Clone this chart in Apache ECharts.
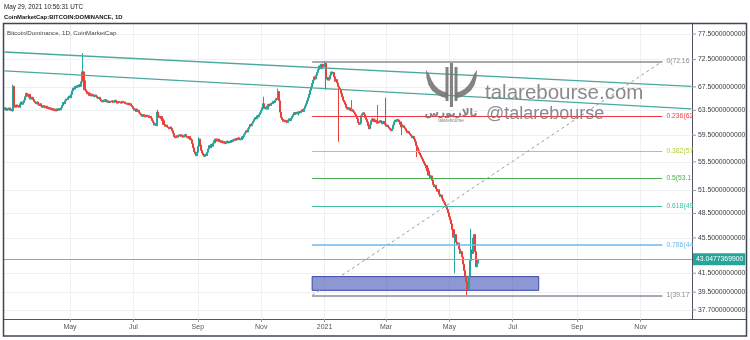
<!DOCTYPE html>
<html><head><meta charset="utf-8">
<script src="https://cdn.jsdelivr.net/npm/echarts@6/dist/echarts.min.js"></script>
<style>html,body{margin:0;padding:0;background:#fff}#c{width:750px;height:340px}</style>
</head><body><div id="c"></div>
<script>
// ---------- data ----------
const startDate = [2020, 1, 28];          // first daily bar (UTC, month 0-based)
const dayCount = 662;                     // days shown on the time axis (incl. future space)
const monthNames = ['Jan','Feb','Mar','Apr','May','Jun','Jul','Aug','Sep','Oct','Nov','Dec'];
const firstOpen = 63.7;
const closes = [
 63.9,63.5,63.8,63.6,63.9,63.5,63.7,63.4,67.6,64.2,
 64.0,64.4,64.1,64.3,64.0,64.6,64.9,64.5,64.8,65.2,
 65.8,66.4,65.9,66.2,65.7,65.4,65.7,65.3,65.0,64.8,
 64.6,64.9,64.5,64.3,64.6,64.2,64.0,64.3,64.1,63.9,64.2,63.8,64.0,63.7,63.9,
 63.6,63.8,63.5,63.7,63.4,63.7,63.5,63.8,63.6,63.9,64.3,
 64.8,64.6,65.1,65.4,65.3,65.7,65.9,65.6,66.2,66.8,
 67.3,67.1,67.6,67.4,67.7,67.5,67.9,67.6,68.4,70.2,68.6,67.0,66.7,66.3,66.5,
 66.0,66.3,65.9,66.2,66.0,65.8,66.1,65.9,65.6,65.5,65.7,65.3,
 65.1,64.9,65.2,65.0,65.3,64.9,65.1,64.8,65.0,
 64.9,65.1,64.8,64.9,65.2,64.9,64.7,65.0,64.8,64.9,64.7,65.0,64.8,64.9,64.6,64.7,
 64.5,64.7,64.4,64.6,64.3,64.1,63.8,63.5,63.7,63.3,63.5,63.1,62.9,
 62.7,62.5,62.8,62.6,62.4,62.7,62.5,62.6,62.3,62.5,62.2,61.8,61.5,
 61.1,61.3,61.0,63.2,62.6,62.3,62.5,62.1,61.8,61.2,60.9,61.1,60.8,
 60.7,60.5,60.8,60.6,60.2,59.8,59.3,59.1,59.4,59.2,59.5,
 59.4,59.6,59.3,59.5,59.2,59.4,59.6,59.3,59.1,59.3,59.0,58.8,58.2,
 57.6,57.0,56.7,56.4,56.9,57.8,58.9,58.0,57.2,56.8,56.5,56.3,56.6,56.4,56.9,
 57.4,57.9,57.6,58.1,57.8,58.3,58.7,58.9,58.6,58.9,58.5,58.7,
 58.4,58.6,58.3,58.5,58.2,58.4,58.6,58.3,58.5,58.4,58.7,58.5,58.8,
 58.9,58.7,59.0,58.8,59.1,58.9,58.8,59.0,59.3,
 59.6,59.9,60.2,60.0,60.5,60.8,61.2,61.0,61.4,61.7,
 62.0,62.3,62.1,62.6,62.4,62.8,63.1,63.5,63.9,64.6,63.8,64.0,63.7,
 64.2,64.5,64.3,64.7,64.6,65.0,64.8,65.2,65.5,65.3,66.7,
 65.1,63.2,62.3,62.0,61.7,61.9,61.6,61.8,61.5,61.9,62.1,61.8,
 62.2,62.5,62.8,63.1,62.9,63.2,63.0,63.3,63.1,
 63.4,63.6,63.3,63.8,64.2,64.6,65.1,65.6,66.2,66.9,67.5,68.1,
 68.7,69.3,68.9,69.6,70.1,70.6,71.3,70.8,71.6,71.2,71.5,71.8,
 68.9,69.2,68.7,68.9,69.6,70.2,69.9,70.1,69.3,68.5,68.8,68.2,
 67.6,67.3,67.0,66.4,65.8,65.2,64.9,64.5,64.0,63.7,63.9,63.5,
 63.4,63.6,63.3,63.1,62.8,62.5,62.1,61.5,61.2,61.4,
 62.6,62.9,63.1,62.8,62.3,62.0,61.6,61.0,60.5,61.2,
 61.8,62.1,61.7,61.9,61.6,61.4,61.7,61.5,61.8,61.6,61.3,61.7,61.4,
 61.2,60.9,61.1,60.8,60.6,60.4,60.2,60.5,61.1,61.6,61.9,61.7,62.0,61.9,61.6,
 61.2,60.8,61.0,60.7,60.5,60.2,59.9,60.1,59.8,59.6,
 59.4,59.1,59.3,58.9,58.5,57.9,57.6,57.2,56.8,56.5,56.2,55.9,
 55.6,55.3,55.0,54.6,54.2,53.6,53.2,53.5,52.9,52.3,52.0,52.2,
 51.7,51.4,51.6,51.0,50.7,50.9,50.4,50.1,49.9,49.6,49.3,49.0,48.6,
 48.1,47.7,47.2,46.5,45.6,45.9,45.0,44.7,44.9,44.2,43.7,43.9,43.3,
 42.5,41.8,41.2,40.6,40.1,39.8,
 41.2,42.9,44.1,43.7,45.5,45.9,43.9,42.2,42.6,43.0477369900
];
// wicks that reach beyond the candle body (bar index -> price)
const wickHighs = {8:67.9, 75:73.7, 147:63.6, 187:59.2, 249:65.8, 263:67.2, 308:72.168, 334:65.2, 359:64.4, 367:65.6, 449:46.6};
const wickLows  = {8:63.3, 283:62.6, 309:67.0, 322:58.5, 382:59.5, 397:56.2, 433:41.5, 445:39.17};

const priceTicks = [77.5, 72.5, 67.5, 63.5, 59.5, 55.5, 51.5, 48.5, 45.5, 41.5, 39.5, 37.7];
const priceMin = 36.82, priceMax = 79.76;
const lastPrice = 43.0477369900;

// drawings (date, price)
const channelUpper = [['2020-02-28', 73.94], ['2021-12-20', 67.58]];
const channelLower = [['2020-02-28', 70.37], ['2021-12-20', 63.73]];
const fibStart = '2020-12-20', fibEnd = '2021-11-22';
const fibLevels = ['0', '0.236', '0.382', '0.5', '0.618', '0.786', '1'];
const fibPrices = [72.168, 62.494, 57.13, 53.17, 49.46, 44.65, 39.17];
const boxFrom = ['2020-12-20', 41.13], boxTo = ['2021-07-26', 39.68];

// ---------- styles ----------
const fibColors = ['#8a8d96', '#f23645', '#b8cf3e', '#4caf50', '#3cc0a0', '#6cb8ec', '#8a8d96'];
const fibWidths = [1.6, 1, 1, 1, 1, 1.6, 1.6];
const FONT = 'Liberation Sans, Arial, sans-serif';
const UP = '#26a69a', DOWN = '#ec3f3a';
const WM = 'rgba(118,118,118,0.9)';

// ---------- build ----------
const categories = [];
const t0 = Date.UTC(startDate[0], startDate[1], startDate[2]);
for (let i = 0; i < dayCount; i++) categories.push(new Date(t0 + i * 86400000).toISOString().slice(0, 10));

const candles = [];
let prev = firstOpen;
closes.forEach((c, i) => {
  const o = prev;
  const hi = wickHighs[i] !== undefined ? wickHighs[i] : Math.max(o, c);
  const lo = wickLows[i] !== undefined ? wickLows[i] : Math.min(o, c);
  candles.push([o, c, lo, hi]);
  prev = c;
});

const isMonthTick = (idx, val) => {
  if (idx < 20) return false;
  const v = typeof val === 'string' ? val : categories[idx];
  if (!v || v.slice(8) !== '01') return false;
  return (+v.slice(5, 7)) % 2 === 1;
};

const chart = echarts.init(document.getElementById('c'), null, {renderer: 'canvas'});
chart.setOption({
  animation: false,
  backgroundColor: '#ffffff',
  grid: {left: 4, right: 58, top: 23, bottom: 21, containLabel: false},
  xAxis: {
    type: 'category', data: categories, boundaryGap: true,
    axisLine: {show: true, lineStyle: {color: '#50535e', width: 1}},
    axisTick: {show: true, alignWithLabel: true, interval: isMonthTick, length: 3, lineStyle: {color: '#9598a1'}},
    axisLabel: {interval: isMonthTick, margin: 5, fontSize: 7, color: '#555', fontFamily: FONT,
      formatter: v => { const m = +v.slice(5, 7); return m === 1 ? v.slice(0, 4) : monthNames[m - 1]; }},
    splitLine: {show: true, interval: isMonthTick, alignWithLabel: true, lineStyle: {color: '#eef0f4', width: 1}}
  },
  yAxis: {
    type: 'log', logBase: 10, min: priceMin, max: priceMax, position: 'right',
    axisLine: {show: true, lineStyle: {color: '#50535e', width: 1}},
    axisTick: {show: false}, axisLabel: {show: false}, splitLine: {show: false}
  },
  series: [
    { // price grid + price scale labels
      type: 'line', data: [], silent: true, z: 1,
      markLine: {
        silent: true, symbol: ['none', 'none'], z: 1, animation: false,
        lineStyle: {color: '#eef0f4', width: 1, type: 'solid'},
        label: {show: true, position: 'end', distance: 0, fontFamily: FONT,
          formatter: p => '{t|}{v|' + p.value.toFixed(10) + '}',
          rich: {t: {width: 4, height: 1, backgroundColor: '#9598a1'}, v: {fontSize: 6.8, color: '#3a3a3a', padding: [0, 0, 0, 2], fontFamily: FONT}}},
        data: priceTicks.map(v => ({yAxis: v}))
      }
    },
    {
      type: 'candlestick', data: candles, z: 3, barWidth: 1.6,
      itemStyle: {color: UP, color0: DOWN, borderColor: UP, borderColor0: DOWN, borderWidth: 1},
      markLine: {
        silent: true, symbol: ['none', 'none'], animation: false,
        data: [{yAxis: lastPrice, lineStyle: {color: '#5cc2b6', width: 1, type: 'solid'},
          label: {show: true, position: 'end', distance: 1, formatter: lastPrice.toFixed(10),
            backgroundColor: '#26a69a', color: '#fff', fontSize: 6.8, fontFamily: FONT, padding: [3, 2, 2, 3]}}]
      }
    },
    { // parallel channel
      type: 'line', data: [], silent: true, z: 4,
      markLine: {
        silent: true, symbol: ['none', 'none'], animation: false, label: {show: false},
        lineStyle: {color: '#4aa89c', width: 1.3, type: 'solid'},
        data: [
          [{coord: channelUpper[0]}, {coord: channelUpper[1]}],
          [{coord: channelLower[0]}, {coord: channelLower[1]}]
        ]
      }
    },
    { // fib retracement
      type: 'line', data: [], silent: true, z: 4,
      markLine: {
        silent: true, symbol: ['none', 'none'], animation: false,
        data: fibLevels.map((lv, k) => [
          {coord: [fibStart, fibPrices[k]], lineStyle: {color: fibColors[k], width: fibWidths[k], type: 'solid'},
           label: {show: true, position: 'end', distance: 4, color: fibColors[k], fontSize: 6.8, fontFamily: FONT,
             formatter: lv + '(' + fibPrices[k].toFixed(10) + ')', width: 28, overflow: 'truncate', ellipsis: ''}},
          {coord: [fibEnd, fibPrices[k]]}
        ]).concat([[
          {coord: [fibStart, fibPrices[6]], lineStyle: {color: '#9a9ca4', width: 1, type: [3, 3]}, label: {show: false}},
          {coord: [fibEnd, fibPrices[0]]}
        ]])
      },
      markArea: {
        silent: true,
        itemStyle: {color: 'rgba(63,81,181,0.6)', borderColor: '#3949ab', borderWidth: 1},
        data: [[{coord: boxFrom}, {coord: boxTo}]]
      }
    }
  ],
  graphic: {elements: [
    {type: 'text', x: 4, y: 7, style: {text: 'May 29, 2021 10:56:31 UTC', fill: '#222', font: '6.3px ' + FONT, verticalAlign: 'middle'}},
    {type: 'text', x: 4, y: 17, style: {text: 'CoinMarketCap:BITCOIN:DOMINANCE, 1D', fill: '#111', font: 'bold 5.9px ' + FONT, verticalAlign: 'middle'}},
    {type: 'text', x: 7, y: 33, z: 60, style: {text: 'Bitcoin/Dominance, 1D, CoinMarketCap', fill: '#444', font: '6.2px ' + FONT, verticalAlign: 'middle'}},
    {type: 'line', shape: {x1: 692, y1: 319.5, x2: 746, y2: 319.5}, style: {stroke: '#50535e', lineWidth: 1}},
    {type: 'rect', shape: {x: 3.5, y: 23.5, width: 743, height: 312.5}, style: {fill: 'none', stroke: '#3d4756', lineWidth: 1.5}, z: 100},
    // watermark logo
    {type: 'polygon', z: 50, shape: {points: [[426,70],[426.5,78],[428.5,85],[432,90.5],[437,94.5],[442,97],[448,98.5],[448,92.5],[443,91.5],[438.5,89],[434.5,85],[431.5,80],[429,74]]}, style: {fill: WM}},
    {type: 'polygon', z: 50, shape: {points: [[477,70],[476.5,78],[474.5,85],[471,90.5],[466,94.5],[461,97],[455,98.5],[455,92.5],[460,91.5],[464.5,89],[468.5,85],[471.5,80],[474,74]]}, style: {fill: WM}},
    {type: 'rect', z: 50, shape: {x: 445.5, y: 67, width: 3, height: 34}, style: {fill: WM}},
    {type: 'rect', z: 50, shape: {x: 450, y: 63, width: 3, height: 44}, style: {fill: WM}},
    {type: 'rect', z: 50, shape: {x: 454.5, y: 67, width: 3, height: 34}, style: {fill: WM}},
    {type: 'text', z: 50, x: 451, y: 113, style: {text: 'تالاربورس', fill: WM, font: 'bold 10.5px DejaVu Sans', align: 'center', verticalAlign: 'middle'}},
    {type: 'text', z: 50, x: 451, y: 121, style: {text: 'talarebourse', fill: WM, font: '4.6px ' + FONT, align: 'center', verticalAlign: 'middle'}},
    {type: 'text', z: 50, x: 485, y: 93, style: {text: 'talarebourse.com', fill: 'rgba(125,125,125,0.9)', font: '20.5px ' + FONT, verticalAlign: 'middle'}},
    {type: 'text', z: 50, x: 486, y: 114, style: {text: '@talarebourse', fill: 'rgba(125,125,125,0.9)', font: '18px ' + FONT, verticalAlign: 'middle'}}
  ]}
});
</script>
</body></html>
